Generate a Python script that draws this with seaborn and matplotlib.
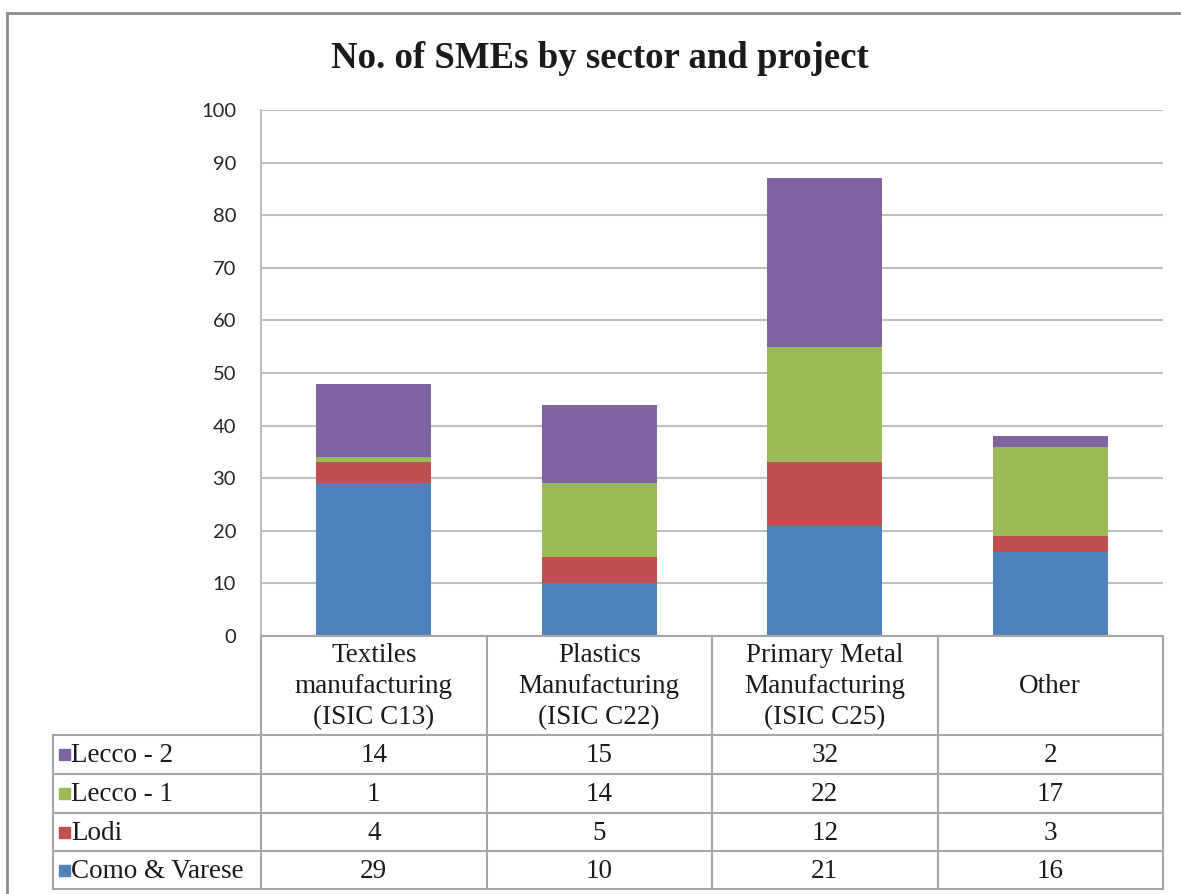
import matplotlib
matplotlib.use("Agg")
import matplotlib.pyplot as plt
from matplotlib.patches import Rectangle
import numpy as np
import pandas as pd
import seaborn as sns

# Sectors (x categories) and their table header text
sectors = ["Textiles", "Plastics", "Primary Metal", "Other"]
sector_headers = [
    "Textiles\nmanufacturing\n(ISIC C13)",
    "Plastics\nManufacturing\n(ISIC C22)",
    "Primary Metal\nManufacturing\n(ISIC C25)",
    "Other",
]

# Projects, bottom of the stack first
projects = ["Como & Varese", "Lodi", "Lecco - 1", "Lecco - 2"]
como_varese = [29, 10, 21, 16]
lodi = [4, 5, 12, 3]
lecco_1 = [1, 14, 22, 17]
lecco_2 = [14, 15, 32, 2]

colors = {
    "Como & Varese": "#4F81BD",
    "Lodi": "#C0504D",
    "Lecco - 1": "#9BBB59",
    "Lecco - 2": "#8064A2",
}

y_ticks = list(range(0, 101, 10))

series = {
    "Como & Varese": como_varese,
    "Lodi": lodi,
    "Lecco - 1": lecco_1,
    "Lecco - 2": lecco_2,
}

sns.set_theme(style="white")
plt.rcParams["font.family"] = ["Liberation Serif", "DejaVu Serif"]

W, H = 1181, 894
fig = plt.figure(figsize=(W / 100, H / 100), dpi=100)
fig.patch.set_facecolor("white")


def fx(px):
    return px / W


def fy(py):
    return 1 - py / H


# Outer chart frame
fig.add_artist(Rectangle((fx(7), fy(900)), fx(1190) - fx(7), fy(13) - fy(900),
                         transform=fig.transFigure, fill=False,
                         edgecolor="#8C8C8C", linewidth=2, clip_on=False))

# Plot area
plot_left, plot_right, plot_top, plot_bottom = 261, 1163, 110, 636
ax = fig.add_axes([fx(plot_left), fy(plot_bottom),
                   fx(plot_right) - fx(plot_left), fy(plot_top) - fy(plot_bottom)])

# Stacked bars: draw cumulative totals from the top series down
df = pd.DataFrame(series, index=sectors)
cum = df.cumsum(axis=1)
for name in reversed(projects):
    sns.barplot(x=sectors, y=cum[name].values, color=colors[name],
                width=0.51, saturation=1, edgecolor="none", linewidth=0, ax=ax,
                zorder=3)

ax.set_xlim(-0.5, 3.5)
ax.set_ylim(0, 100)
ax.set_yticks(y_ticks)
ax.set_yticklabels([str(t) for t in y_ticks], fontfamily="Lato", fontsize=14.5,
                   color="#262626")
ax.tick_params(axis="y", length=0, pad=18)
ax.set_xticks([])
ax.set_xlabel("")
ax.set_ylabel("")
ax.grid(axis="y", color="#BFBFBF", linewidth=1.5, zorder=0)
ax.set_axisbelow(True)
for side in ["top", "right", "bottom"]:
    ax.spines[side].set_visible(False)
ax.spines["left"].set_color("#BFBFBF")
ax.spines["left"].set_linewidth(1.5)

fig.suptitle("No. of SMEs by sector and project", x=fx(600), y=fy(59),
             va="center", fontsize=26.5, fontweight="bold", color="#1a1a1a")

# Data table beneath the plot
tab_left = 53
tab_rows = [636, 735, 774, 813, 851, 889]
col_edges = [plot_left + i * (plot_right - plot_left) / 4 for i in range(5)]
tax = fig.add_axes([0, 0, 1, 1], facecolor="none")
tax.set_xlim(0, W)
tax.set_ylim(H, 0)
tax.axis("off")

line_kw = dict(color="#A6A6A6", linewidth=1.5)
# header row: only over the category columns
tax.plot([plot_left, plot_right], [tab_rows[0], tab_rows[0]], **line_kw)
for y in tab_rows[1:]:
    tax.plot([tab_left, plot_right], [y, y], **line_kw)
for x in col_edges:
    tax.plot([x, x], [tab_rows[0], tab_rows[-1]], **line_kw)
tax.plot([tab_left, tab_left], [tab_rows[1], tab_rows[-1]], **line_kw)

fs = 19.5
txt_kw = dict(fontsize=fs, color="#1a1a1a", ha="center", va="center")
for i, head in enumerate(sector_headers):
    cx = (col_edges[i] + col_edges[i + 1]) / 2
    tax.text(cx, (tab_rows[0] + tab_rows[1]) / 2 + 1, head,
             linespacing=1.3, **txt_kw)

for r, name in enumerate(reversed(projects)):
    y0, y1 = tab_rows[r + 1], tab_rows[r + 2]
    cy = (y0 + y1) / 2
    tax.add_patch(Rectangle((59, cy - 5.5), 11, 11, color=colors[name]))
    tax.text(71, cy + 1, name, fontsize=fs, color="#1a1a1a", ha="left",
             va="center")
    for i, v in enumerate(series[name]):
        cx = (col_edges[i] + col_edges[i + 1]) / 2
        tax.text(cx, cy + 1, str(v), **txt_kw)

fig.savefig("out.png", dpi=100, facecolor="white")
